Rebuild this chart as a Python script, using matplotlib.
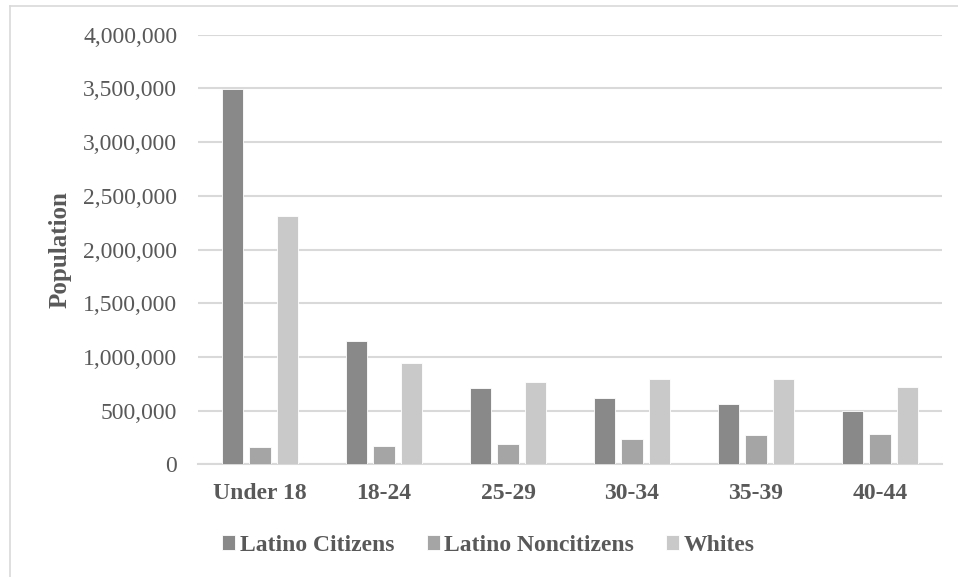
import numpy as np
import matplotlib.pyplot as plt
from matplotlib.lines import Line2D
from matplotlib.ticker import FuncFormatter

plt.rcParams['font.family'] = ['Liberation Serif', 'DejaVu Serif']

age_groups = ['Under 18', '18-24', '25-29', '30-34', '35-39', '40-44']
latino_citizens = [3495000, 1147000, 712000, 616000, 560000, 498000]
latino_noncitizens = [163000, 172000, 191000, 234000, 272000, 284000]
whites = [2310000, 945000, 765000, 799000, 796000, 724000]

series = [('Latino Citizens', latino_citizens, '#898989'),
          ('Latino Noncitizens', latino_noncitizens, '#a5a5a5'),
          ('Whites', whites, '#c9c9c9')]

text_col = '#595959'
grid_col = '#d9d9d9'
fs = 17

fig = plt.figure(figsize=(9.58, 5.77), dpi=100)
ax = fig.add_axes([0.2067, 0.195, 0.7766, 0.7449])

x = np.arange(len(age_groups))
width = 0.173
step = 0.22
for k, (name, vals, col) in enumerate(series):
    ax.bar(x + (k - 1) * step, vals, width, color=col, label=name,
           edgecolor='white', linewidth=0.6, zorder=3)

ax.set_xlim(-0.5, len(age_groups) - 0.5)
ax.set_ylim(0, 4000000)
ax.set_yticks(np.arange(0, 4000001, 500000))
ax.yaxis.set_major_formatter(FuncFormatter(lambda v, p: f'{int(v):,}'))
ax.set_xticks(x)
ax.set_xticklabels(age_groups, fontweight='bold')
ax.tick_params(axis='both', length=0, labelsize=fs, colors=text_col)
ax.tick_params(axis='x', pad=13)
ax.tick_params(axis='y', pad=15)

ax.grid(axis='y', color=grid_col, linewidth=1.5, zorder=0)
for s in ['top', 'right', 'left']:
    ax.spines[s].set_visible(False)
ax.spines['bottom'].set_color(grid_col)
ax.spines['bottom'].set_linewidth(1.5)

ax.set_ylabel('Population', fontsize=18, fontweight='bold', color=text_col, labelpad=8)

leg = fig.legend(loc='center', bbox_to_anchor=(0.510, 0.055), ncol=3, frameon=False,
                 handlelength=0.55, handleheight=0.55, handletextpad=0.2, columnspacing=1.35,
                 prop={'size': fs, 'weight': 'bold'})
for t in leg.get_texts():
    t.set_color(text_col)

# outer chart border (left and top edges fall inside the image)
fig.add_artist(Line2D([9.5 / 958, 9.5 / 958], [0, 1 - 5.5 / 577], transform=fig.transFigure,
                      color=grid_col, linewidth=1.2))
fig.add_artist(Line2D([9.5 / 958, 1], [1 - 5.5 / 577, 1 - 5.5 / 577], transform=fig.transFigure,
                      color=grid_col, linewidth=1.2))

fig.savefig('out.png', dpi=100)
